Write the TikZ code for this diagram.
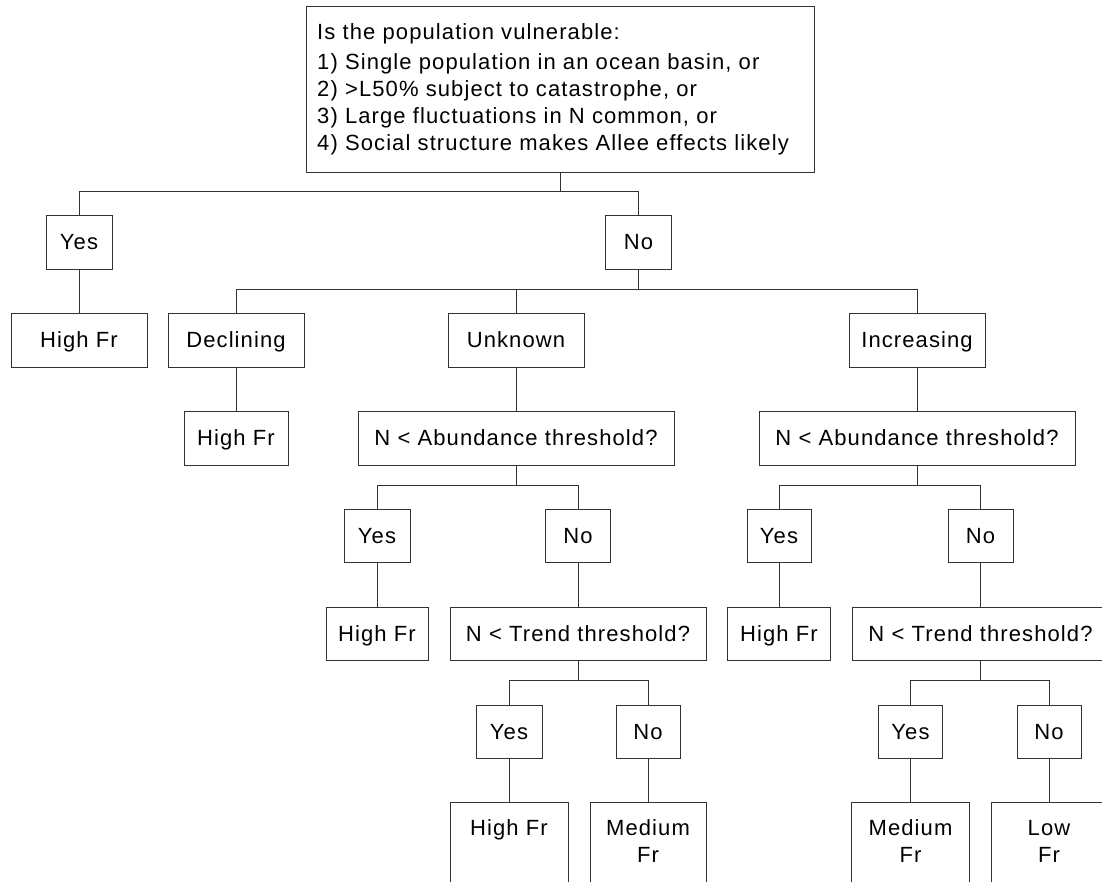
\documentclass[tikz,border=0pt]{standalone}
\usepackage{fontspec}
\setmainfont{Liberation Sans}[LetterSpace=5]
\usetikzlibrary{calc}
\tikzset{
  box/.style={draw=black!80, line width=0.9pt, inner sep=0pt, minimum height=54pt,
    text height=15.8pt, text depth=0pt, font=\fontsize{22}{26.7}\selectfont},
  txt/.style={inner sep=0pt, font=\fontsize{22}{26.7}\selectfont},
  conn/.style={draw=black!80, line width=0.9pt},
}
\begin{document}
\begin{tikzpicture}[x=1pt,y=-1pt]
\useasboundingbox (0,0) rectangle (1102,881);
\fill[white] (0,0) rectangle (1102,881);
\clip (0,0) rectangle (1102,881);

% root
\node[box, minimum width=508pt, minimum height=166pt] (root) at (560,89) {};
\node[txt, anchor=base west] (r1) at (317,39) {Is the population vulnerable:};
\node[txt, anchor=base west] (r2) at (317,69) {1) Single population in an ocean basin, or};
\node[txt, anchor=base west] (r3) at (317,96) {2) >L50\% subject to catastrophe, or};
\node[txt, anchor=base west] (r4) at (317,123) {3) Large fluctuations in N common, or};
\node[txt, anchor=base west] (r5) at (317,150) {4) Social structure makes Allee effects likely};

% level 1
\node[box, minimum width=66pt] (yes1) at (79,242) {Yes};
\node[box, minimum width=66pt] (no1) at (638.5,242) {No};

% level 2
\node[box, minimum width=136pt] (hf1) at (79,340) {High Fr};
\node[box, minimum width=136pt] (decl) at (236,340) {Declining};
\node[box, minimum width=136pt] (unk) at (516,340) {Unknown};
\node[box, minimum width=136pt] (incr) at (917,340) {Increasing};

% level 3
\node[box, minimum width=104pt] (hf2) at (236,438) {High Fr};
\node[box, minimum width=316pt] (abL) at (516,438) {N < Abundance threshold?};
\node[box, minimum width=316pt] (abR) at (917,438) {N < Abundance threshold?};

% level 4
\node[box, minimum width=66pt, minimum height=53pt] (yesL) at (377,535.5) {Yes};
\node[box, minimum width=65pt, minimum height=53pt] (noL) at (578,535.5) {No};
\node[box, minimum width=64pt, minimum height=53pt] (yesR) at (779,535.5) {Yes};
\node[box, minimum width=65pt, minimum height=53pt] (noR) at (980.5,535.5) {No};

% level 5
\node[box, minimum width=102pt, minimum height=53pt] (hf3) at (377,633.5) {High Fr};
\node[box, minimum width=256pt, minimum height=53pt] (trL) at (578,633.5) {N < Trend threshold?};
\node[box, minimum width=103pt, minimum height=53pt] (hf4) at (779,633.5) {High Fr};
\node[box, minimum width=256pt, minimum height=53pt] (trR) at (980.5,633.5) {N < Trend threshold?};

% level 6
\node[box, minimum width=66pt, minimum height=53pt] (yesLL) at (509,731.5) {Yes};
\node[box, minimum width=64pt, minimum height=53pt] (noLL) at (648,731.5) {No};
\node[box, minimum width=64pt, minimum height=53pt] (yesRR) at (910.5,731.5) {Yes};
\node[box, minimum width=64pt, minimum height=53pt] (noRR) at (1049,731.5) {No};

% level 7 (cut off at the bottom)
\node[box, minimum width=118pt, minimum height=98pt] (hf5) at (509,851) {};
\node[box, minimum width=116pt, minimum height=98pt] (medL) at (648,851) {};
\node[box, minimum width=117.5pt, minimum height=98pt] (medR) at (910.5,851) {};
\node[box, minimum width=116pt, minimum height=98pt] (lowR) at (1049,851) {};
\node[txt, anchor=base] (hf5t) at (509,835) {High Fr};
\node[txt, anchor=base] (medLa) at (648,835) {Medium};
\node[txt, anchor=base] (medLb) at (648,862) {Fr};
\node[txt, anchor=base] (medRa) at (910.5,835) {Medium};
\node[txt, anchor=base] (medRb) at (910.5,862) {Fr};
\node[txt, anchor=base] (lowRa) at (1049,835) {Low};
\node[txt, anchor=base] (lowRb) at (1049,862) {Fr};

% connectors
\coordinate (j0) at ($(root.south)+(0,19)$);
\draw[conn] (root.south) -- (j0);
\draw[conn] (yes1.north) |- (j0) -| (no1.north);
\draw[conn] (yes1.south) -- (hf1.north);

\coordinate (j1) at ($(no1.south)+(0,20)$);
\draw[conn] (no1.south) -- (j1);
\draw[conn] (decl.north) |- (j1) -| (incr.north);
\draw[conn] (unk.north) |- (j1);
\draw[conn] (decl.south) -- (hf2.north);
\draw[conn] (unk.south) -- (abL.north);
\draw[conn] (incr.south) -- (abR.north);

\coordinate (j2) at ($(abL.south)+(0,20)$);
\draw[conn] (abL.south) -- (j2);
\draw[conn] (yesL.north) |- (j2) -| (noL.north);
\coordinate (j3) at ($(abR.south)+(0,20)$);
\draw[conn] (abR.south) -- (j3);
\draw[conn] (yesR.north) |- (j3) -| (noR.north);

\draw[conn] (yesL.south) -- (hf3.north);
\draw[conn] (noL.south) -- (trL.north);
\draw[conn] (yesR.south) -- (hf4.north);
\draw[conn] (noR.south) -- (trR.north);

\coordinate (j4) at ($(trL.south)+(0,19.5)$);
\draw[conn] (trL.south) -- (j4);
\draw[conn] (yesLL.north) |- (j4) -| (noLL.north);
\coordinate (j5) at ($(trR.south)+(0,19.5)$);
\draw[conn] (trR.south) -- (j5);
\draw[conn] (yesRR.north) |- (j5) -| (noRR.north);

\draw[conn] (yesLL.south) -- (hf5.north);
\draw[conn] (noLL.south) -- (medL.north);
\draw[conn] (yesRR.south) -- (medR.north);
\draw[conn] (noRR.south) -- (lowR.north);
\end{tikzpicture}
\end{document}
